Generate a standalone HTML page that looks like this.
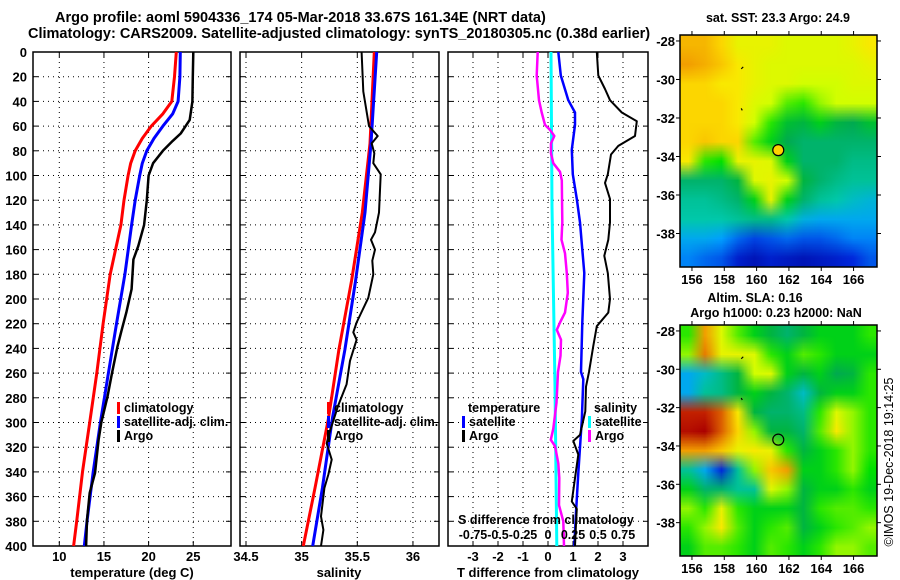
<!DOCTYPE html>
<html><head><meta charset="utf-8"><style>
html,body{margin:0;padding:0;background:#fff}
svg{display:block;font-family:"Liberation Sans",Arial,sans-serif;font-weight:bold}
</style></head><body>
<div style="position:relative;width:900px;height:580px">
<canvas id="sstmap" width="12" height="12" style="position:absolute;left:680px;top:35px;width:197px;height:232px"></canvas>
<canvas id="slamap" width="12" height="12" style="position:absolute;left:680px;top:325px;width:197px;height:231px"></canvas>
<svg id="fig" width="900" height="580" style="position:absolute;left:0;top:0"></svg>
</div>
<script>
// ---------- data ----------
const depthTicks=[0,20,40,60,80,100,120,140,160,180,200,220,240,260,280,300,320,340,360,380,400];
const tTicks=[10,15,20,25];
const sTicks=[34.5,35,35.5,36];
const dTicks=[-3,-2,-1,0,1,2,3];
const dsTickLabels=["-0.75","-0.5","-0.25","0","0.25","0.5","0.75"];

const tClimDepth=[0,20,40,50,60,70,80,90,100,120,140,180,220,260,300,340,380,400];
const tClim=[23.1,22.9,22.6,21.6,20.3,19.3,18.5,18.0,17.7,17.25,16.9,15.7,14.9,14.2,13.4,12.6,11.95,11.6];
const tSatDepth=[0,20,40,50,60,70,80,90,100,120,140,180,220,260,300,340,380,400];
const tSat=[23.55,23.5,23.3,22.7,21.6,20.6,19.8,19.3,19.0,18.5,18.1,17.35,16.4,15.5,14.6,13.8,13.1,12.8];
const tArgoDepth=[0,20,40,55,66,72,80,90,100,120,140,157,168,192,211,226,239,260,279,300,314,341,357,379,400];
const tArgo=[25.0,24.95,24.9,24.6,23.6,22.7,21.6,20.5,20.0,19.8,19.5,18.85,18.3,18.1,17.5,16.95,16.5,15.9,15.4,14.7,14.4,14.0,13.4,13.1,13.0];

const sClimDepth=[0,74,130,185,241,297,353,400];
const sClim=[35.653,35.614,35.545,35.449,35.335,35.24,35.12,35.015];
const sSatDepth=[0,74,130,185,241,297,353,400];
const sSat=[35.674,35.623,35.569,35.485,35.389,35.275,35.186,35.099];
const sArgoDepth=[0,32,60,68,74,82,90,99,130,146,152,160,169,180,199,219,227,233,250,269,286,311,317,330,342,353,376,387,400];
const sArgo=[35.539,35.554,35.605,35.683,35.629,35.653,35.644,35.71,35.695,35.659,35.623,35.659,35.635,35.644,35.599,35.494,35.464,35.494,35.434,35.404,35.329,35.24,35.225,35.27,35.24,35.204,35.174,35.195,35.174];

const dTSatDepth=[0,19,39,49,59,79,99,119,138,160,179,219,259,265,298,341,373,400];
const dTSat=[0.41,0.51,0.81,1.08,1.08,0.95,0.99,1.15,1.28,1.37,1.45,1.37,1.32,1.41,1.35,1.21,1.12,1.05];
const dTArgoDepth=[0,19,30,39,49,56,68,76,83,99,106,119,138,152,165,179,200,211,222,238,259,271,291,310,315,326,345,364,370,382,400];
const dTArgo=[1.95,2.01,2.28,2.48,2.95,3.55,3.48,2.81,2.52,2.39,2.28,2.48,2.48,2.41,2.25,2.39,2.48,2.41,1.95,1.81,1.64,1.52,1.49,1.28,1.01,1.21,1.08,0.95,1.15,1.12,1.08];
const dSSatDepth=[0,125,271,400];
const dSSat=[0.03,0.04,0.07,0.088];
const dSArgoDepth=[0,19,39,49,59,63,68,74,82,90,97,104,138,152,163,179,195,211,219,225,233,246,259,284,305,314,319,333,345,367,380,400];
const dSArgo=[-0.103,-0.113,-0.09,-0.063,-0.03,0.02,0.063,0.03,0.03,0.053,0.12,0.138,0.143,0.135,0.17,0.188,0.198,0.17,0.12,0.088,0.13,0.125,0.1,0.085,0.053,0.028,0.07,0.103,0.113,0.11,0.153,0.16];

const sstGrid=[
[0.82,0.82,0.78,0.72,0.72,0.72,0.70,0.70,0.70,0.70,0.72,0.75],
[0.85,0.83,0.80,0.75,0.72,0.70,0.70,0.70,0.70,0.70,0.70,0.72],
[0.78,0.78,0.75,0.75,0.72,0.70,0.70,0.68,0.68,0.68,0.70,0.70],
[0.78,0.78,0.78,0.75,0.70,0.68,0.62,0.60,0.65,0.68,0.68,0.68],
[0.78,0.78,0.78,0.75,0.68,0.60,0.52,0.50,0.55,0.50,0.48,0.52],
[0.78,0.80,0.78,0.78,0.62,0.55,0.48,0.45,0.45,0.45,0.45,0.45],
[0.75,0.60,0.58,0.72,0.72,0.70,0.55,0.45,0.45,0.45,0.42,0.42],
[0.45,0.45,0.45,0.50,0.70,0.72,0.68,0.50,0.45,0.42,0.40,0.40],
[0.40,0.40,0.42,0.45,0.55,0.72,0.55,0.45,0.40,0.38,0.35,0.33],
[0.38,0.38,0.38,0.40,0.42,0.42,0.38,0.32,0.30,0.30,0.30,0.30],
[0.30,0.30,0.28,0.22,0.18,0.20,0.22,0.20,0.20,0.22,0.25,0.25],
[0.25,0.22,0.20,0.12,0.08,0.12,0.10,0.08,0.10,0.12,0.15,0.20]];
const slaGrid=[
[0.60,0.85,0.70,0.62,0.55,0.50,0.45,0.50,0.55,0.55,0.55,0.60],
[0.65,0.88,0.72,0.72,0.70,0.60,0.55,0.62,0.60,0.55,0.55,0.55],
[0.30,0.35,0.42,0.50,0.68,0.70,0.55,0.50,0.55,0.48,0.50,0.60],
[0.30,0.40,0.42,0.50,0.55,0.50,0.45,0.35,0.50,0.55,0.55,0.60],
[0.95,0.95,0.90,0.75,0.50,0.45,0.45,0.42,0.60,0.70,0.65,0.60],
[0.98,1.00,0.90,0.78,0.65,0.50,0.50,0.45,0.62,0.75,0.65,0.60],
[0.85,0.85,0.80,0.72,0.75,0.72,0.60,0.50,0.55,0.60,0.65,0.60],
[0.40,0.30,0.15,0.40,0.65,0.80,0.85,0.55,0.55,0.60,0.65,0.58],
[0.55,0.45,0.45,0.40,0.40,0.70,0.65,0.50,0.55,0.55,0.60,0.55],
[0.65,0.60,0.72,0.60,0.55,0.55,0.55,0.50,0.60,0.62,0.62,0.60],
[0.60,0.65,0.75,0.62,0.55,0.60,0.62,0.50,0.55,0.60,0.62,0.65],
[0.55,0.62,0.62,0.60,0.55,0.62,0.60,0.55,0.60,0.65,0.65,0.62]];
const lonTicks=[156,158,160,162,164,166];
const latTicks=[-28,-30,-32,-34,-36,-38];
const argoLon=161.34, argoLat=-33.67;

// ---------- helpers ----------
const NS="http://www.w3.org/2000/svg";
const svg=document.getElementById('fig');
function mk(tag,attrs,parent){const e=document.createElementNS(NS,tag);for(const k in attrs)e.setAttribute(k,attrs[k]);(parent||svg).appendChild(e);return e;}
function txt(x,y,s,size,anchor){const t=mk('text',{x:x,y:y,'font-size':size||13,'text-anchor':anchor||'start',fill:'#000'});t.textContent=s;return t;}
const TOP=52,BOT=546;
const yD=d=>TOP+d*(BOT-TOP)/400;

function panel(name,x0,x1,xs,xt){
  const g=mk('g',{});
  
  
  depthTicks.forEach(d=>{if(d>0&&d<400)mk('line',{x1:x0,x2:x1,y1:yD(d),y2:yD(d),stroke:'#000','stroke-width':1,'stroke-dasharray':'1,4'},g);
    mk('line',{x1:x0,x2:x0+5,y1:yD(d),y2:yD(d),stroke:'#000'},g);mk('line',{x1:x1-5,x2:x1,y1:yD(d),y2:yD(d),stroke:'#000'},g);});
  xt.forEach(v=>{const x=xs(v);mk('line',{x1:x,x2:x,y1:TOP,y2:BOT,stroke:'#000','stroke-dasharray':'1,4'},g);
    mk('line',{x1:x,x2:x,y1:TOP,y2:TOP+5,stroke:'#000'},g);mk('line',{x1:x,x2:x,y1:BOT-5,y2:BOT,stroke:'#000'},g);});
  mk('rect',{x:x0,y:TOP,width:x1-x0,height:BOT-TOP,fill:'none',stroke:'#000','stroke-width':1.5},g);
  return g;
}
function line(g,name,ds,vs,xs,color,w){
  const pts=ds.map((d,i)=>xs(vs[i]).toFixed(1)+','+yD(d).toFixed(1)).join(' ');
  const p=mk('polyline',{points:pts,fill:'none',stroke:color,'stroke-width':w,'stroke-linejoin':'round'},g);
  
  
}
function legendRow(g,x,y,color,label){
  mk('rect',{x:x,y:y-10,width:3,height:12,fill:color},g);
  txt(x+7,y,label,12.5);
}

// titles
const t1=txt(55,22,"Argo profile: aoml 5904336_174 05-Mar-2018 33.67S 161.34E (NRT data)",14.5);

const t2=txt(28,38,"Climatology: CARS2009. Satellite-adjusted climatology: synTS_20180305.nc (0.38d earlier)",14.5);


// depth labels
depthTicks.forEach(d=>{const t=txt(27,yD(d)+5,String(d),13,'end');});

// Panel 1 temperature
const xT=v=>59.3+(v-10)*8.93;
const p1=panel('temperature-panel',33,231,xT,tTicks);
tTicks.forEach(v=>txt(xT(v),561,String(v),13,'middle'));
txt(132,577,"temperature (deg C)",13,'middle');
line(p1,'temperature-climatology',tClimDepth,tClim,xT,'#ff0000',3);
line(p1,'temperature-satellite-adj',tSatDepth,tSat,xT,'#0000ff',3);
line(p1,'temperature-argo',tArgoDepth,tArgo,xT,'#000',2.5);
legendRow(p1,117,412,'#ff0000','climatology');
legendRow(p1,117,426,'#0000ff','satellite-adj. clim.');
legendRow(p1,117,440,'#000','Argo');

// Panel 2 salinity
const xS=v=>246+(v-34.5)*111.3;
const p2=panel('salinity-panel',240,439,xS,sTicks);
sTicks.forEach(v=>txt(xS(v),561,String(v),13,'middle'));
txt(339,577,"salinity",13,'middle');
line(p2,'salinity-climatology',sClimDepth,sClim,xS,'#ff0000',3);
line(p2,'salinity-satellite-adj',sSatDepth,sSat,xS,'#0000ff',3);
line(p2,'salinity-argo',sArgoDepth,sArgo,xS,'#000',2);
legendRow(p2,327,412,'#ff0000','climatology');
legendRow(p2,327,426,'#0000ff','satellite-adj. clim.');
legendRow(p2,327,440,'#000','Argo');

// Panel 3 differences
const xD=v=>548+v*25;
const xDS=v=>548+v*100;
const p3=panel('difference-panel',448,648,xD,dTicks);
dTicks.forEach(v=>txt(xD(v),561,String(v),13,'middle'));
txt(548,577,"T difference from climatology",13,'middle');
line(p3,'salinity-diff-satellite',dSSatDepth,dSSat,xDS,'#00ffff',3);
line(p3,'salinity-diff-argo',dSArgoDepth,dSArgo,xDS,'#ff00ff',2.5);
line(p3,'temperature-diff-satellite',dTSatDepth,dTSat,xD,'#0000ff',2.5);
line(p3,'temperature-diff-argo',dTArgoDepth,dTArgo,xD,'#000',2);
txt(546,524,"S difference from climatology",12.5,'middle');
dsTickLabels.forEach((s,i)=>txt(xD(dTicks[i]),539,s,12.5,'middle'));
txt(468,412,"temperature",12.5);
legendRow(p3,462,426,'#0000ff','satellite');
legendRow(p3,462,440,'#000','Argo');
txt(594,412,"salinity",12.5);
legendRow(p3,588,426,'#00ffff','satellite');
legendRow(p3,588,440,'#ff00ff','Argo');

// ---------- maps ----------
const cstops=[[0,[0,0,140]],[0.15,[0,40,220]],[0.28,[0,160,255]],[0.38,[0,200,170]],[0.48,[0,170,80]],[0.58,[0,225,0]],[0.68,[210,255,0]],[0.76,[255,230,0]],[0.86,[240,150,0]],[0.94,[200,40,0]],[1,[170,0,0]]];
function cmap(v){for(let i=1;i<cstops.length;i++){if(v<=cstops[i][0]){const a=cstops[i-1],b=cstops[i],f=(v-a[0])/(b[0]-a[0]);return a[1].map((c,k)=>Math.round(c+(b[1][k]-c)*f));}}return cstops[cstops.length-1][1];}
function drawMap(id,grid){const c=document.getElementById(id),ctx=c.getContext('2d');const im=ctx.createImageData(12,12);
  grid.forEach((row,r)=>row.forEach((v,k)=>{const col=cmap(v),i=(r*12+k)*4;im.data[i]=col[0];im.data[i+1]=col[1];im.data[i+2]=col[2];im.data[i+3]=255;}));ctx.putImageData(im,0,0);}
drawMap('sstmap',sstGrid);drawMap('slamap',slaGrid);

function mapFrame(name,top,bot,fill){
  const g=mk('g',{});
  
  
  const L=680,R=877;
  const xL=lon=>L+(lon-155.26)*(R-L)/(167.45-155.26);
  const yL=lat=>top+(-27.69-lat)*(bot-top)/(39.74-27.69);
  mk('rect',{x:L,y:top,width:R-L,height:bot-top,fill:'none',stroke:'#000','stroke-width':1.5},g);
  lonTicks.forEach(v=>{const x=xL(v);mk('line',{x1:x,x2:x,y1:top-4,y2:top,stroke:'#000'},g);mk('line',{x1:x,x2:x,y1:bot,y2:bot+4,stroke:'#000'},g);txt(x,bot+17,String(v),13,'middle');});
  latTicks.forEach(v=>{const y=yL(v);mk('line',{x1:L-4,x2:L,y1:y,y2:y,stroke:'#000'},g);mk('line',{x1:R,x2:R+4,y1:y,y2:y,stroke:'#000'},g);txt(L-5,y+5,String(v),13,'end');});
  const dot=mk('circle',{cx:xL(argoLon),cy:yL(argoLat),r:5.5,fill:fill,stroke:'#000','stroke-width':1.2},g);
  
  
  mk('path',{d:`M${xL(159.05)},${yL(-29.45)} l2,-2 M${xL(159.05)},${yL(-31.5)} l1,2`,stroke:'#000','stroke-width':1.2},g);
}
mapFrame('sst-map-frame',35,267,'#ffd200');
mapFrame('sla-map-frame',325,556,'none');
txt(778,22,"sat. SST: 23.3 Argo: 24.9",12.5,'middle');
txt(755,302,"Altim. SLA: 0.16",12.5,'middle');
txt(776,317,"Argo h1000: 0.23 h2000: NaN",12.5,'middle');
const cr=txt(0,0,"©IMOS 19-Dec-2018 19:14:25",12.5,'middle');
cr.setAttribute('transform','translate(893,462) rotate(-90)');
cr.setAttribute('font-weight','normal');

</script>
</body></html>
